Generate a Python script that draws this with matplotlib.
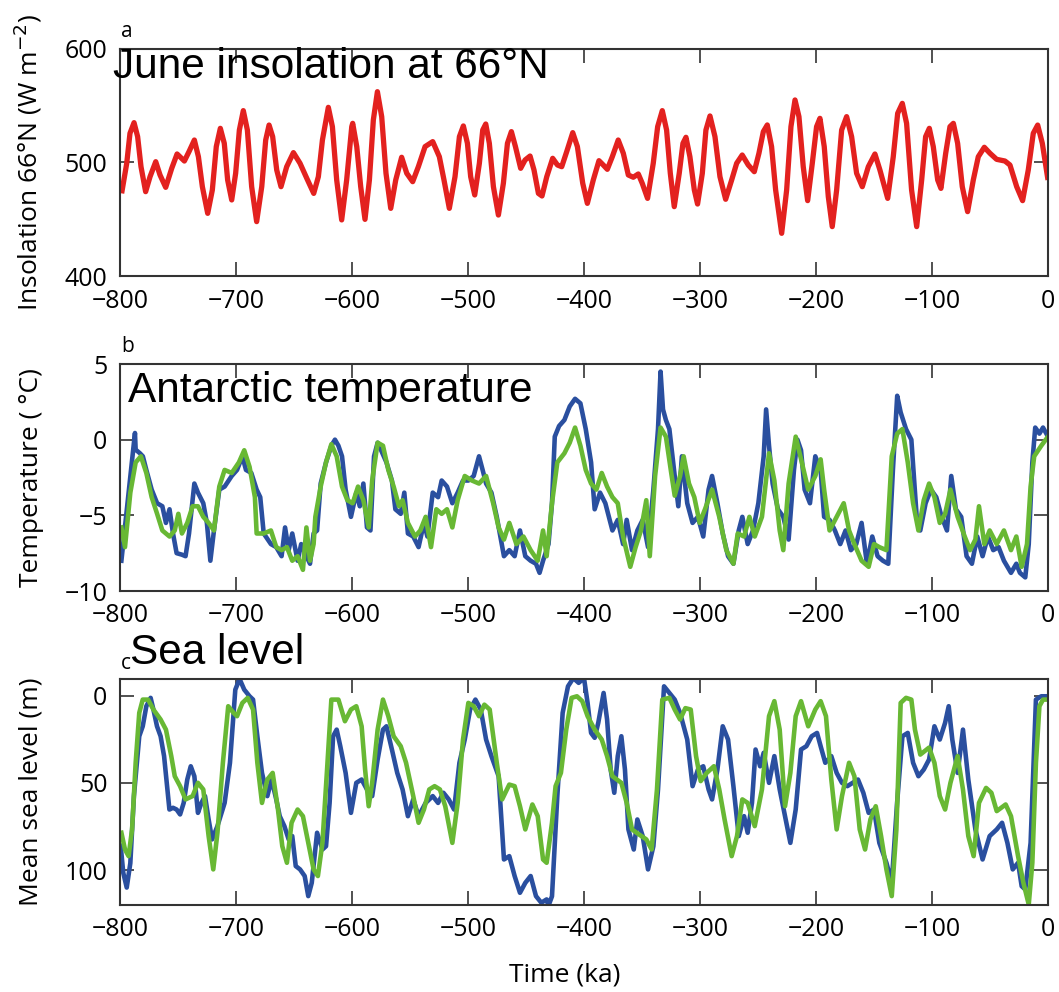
import matplotlib
matplotlib.use("Agg")
import matplotlib.pyplot as plt

# ---------------- data ----------------
insolation = [(-798.6,472.8),(-794.2,499.3),(-791.4,525.7),(-787.9,535.1),(-784.8,522.8),(-781.9,496.3),
    (-777.9,474.3),(-774.1,487.5),(-769.2,500.7),(-765.5,489),(-760.6,478.1),(-755.4,494.9),(-750.8,507.5),
    (-744.5,501.3),(-740.5,509.6),(-735.9,519.8),(-732.4,505.1),(-729,478.7),(-724.4,455.2),(-720.4,475.8),
    (-717,514),(-713.5,530.1),(-710.1,516.9),(-707.2,484.6),(-703.7,467),(-700.3,490.5),(-697.1,528.6),
    (-693.7,545.7),(-690.2,528.6),(-686.5,478.7),(-682.2,447.9),(-677.8,478.7),(-674.4,519.8),(-671.5,533),
    (-668.4,522.8),(-664.9,493.4),(-661.2,478.7),(-656.3,496.3),(-650.5,508.7),(-644.8,499.3),(-639,486.1),
    (-633,472.8),(-629,487.5),(-625.5,519.8),(-620.4,548.6),(-616.9,531.6),(-613.2,484.6),(-608.9,449.4),
    (-604.6,484.6),(-600.2,531.6),(-599.4,534.5),(-595.9,514),(-592.5,478.7),(-588.8,449.9),(-585,484.6),
    (-581.6,537.5),(-578.1,562.4),(-574.4,540.4),(-570.7,490.5),(-566.6,459.6),(-562.3,484.6),(-557.2,504.6),
    (-552.8,490.5),(-547.7,483.1),(-542.8,496.3),(-537,514),(-530.4,518.4),(-524.7,505.1),(-520.7,484.6),
    (-516.1,459.6),(-511.2,487.5),(-507.4,522.8),(-504,532.2),(-500.5,516.9),(-497.7,487.5),(-494.2,471.4),
    (-490.2,499.3),(-487.3,528.6),(-484.7,533.9),(-481.6,516.9),(-478.1,478.7),(-473.8,453.7),(-469.5,481.7),
    (-466,516.9),(-462.6,527.2),(-459.1,514),(-454.6,494.9),(-450.8,502.2),(-446.5,505.7),(-443.1,493.4),
    (-439.3,472.8),(-436.2,470.5),(-432.1,487.5),(-427,503.7),(-422.9,497.8),(-419.2,496.3),(-414.9,509.6),
    (-409.7,526.3),(-405.7,514),(-401.1,481.7),(-397.1,464),(-392,484.6),(-387.1,501.6),(-383.4,497.8),
    (-379.9,494),(-375.6,505.1),(-370.5,519.8),(-366.1,508.1),(-361.8,489),(-357.5,487),(-353.2,489.9),
    (-349.8,481.7),(-345.2,468.4),(-340.3,499.3),(-336.5,531.6),(-332.5,545.7),(-328.8,528.6),(-325.6,490.5),
    (-322.2,461.1),(-317.9,490.5),(-314.7,516.9),(-312.1,522.2),(-308.7,505.1),(-304.9,475.8),(-302.1,463.4),
    (-298,490.5),(-294.9,528.6),(-291.4,541),(-287.1,522.8),(-282.8,487.5),(-277.9,467.6),(-272.7,484.6),
    (-268.4,499.3),(-263.6,506.6),(-258.4,497.8),(-253.2,491.9),(-249.2,508.1),(-245.4,527.2),(-242,533.1),
    (-238.3,514),(-234.8,475.8),(-229.6,437.6),(-225.3,475.8),(-221.6,531.6),(-218.1,555.1),(-214.7,540.4),
    (-211,496.3),(-207.2,466.4),(-203.2,499.3),(-199.5,531.6),(-196.6,538.9),(-192.9,514),(-189.4,469.9),
    (-186,443.5),(-182.2,475.8),(-177.9,528.6),(-173.6,540.4),(-169.3,522.8),(-165,490.5),(-160.1,478.7),
    (-154.9,496.3),(-149.2,507.5),(-144.9,493.4),(-138.2,468.4),(-133.4,505.1),(-129.6,543.3),(-125.6,552.1),
    (-121.9,534.5),(-117.6,475.8),(-113.2,443.5),(-108.9,484.6),(-105.5,522.8),(-102.3,530.1),(-98.9,514),
    (-95.1,484.6),(-92.3,477.2),(-88.2,508.1),(-84.5,531.6),(-81.6,534.5),(-77.9,516.9),(-73.9,478.7),
    (-69.3,456.7),(-64.4,484.6),(-60.1,505.1),(-54.9,513.4),(-50,508.1),(-44.3,502.8),(-37.1,501.3),
    (-32.8,497.8),(-27,478.7),(-21.9,466.4),(-17,493.4),(-12.7,525.7),(-8.9,533),(-4.9,516.9),(0,484.6)]

temp_blue = [(-798.8,-8.0),(-787.1,0.44),(-786.5,-0.66),(-782.8,-0.9),(-780.3,-1.1),(-777.3,-2),(-772.7,-3.3),
    (-768,-4.2),(-763.5,-4.4),(-760.4,-5.5),(-757.3,-4.6),(-754.3,-6.2),(-751.2,-7.5),(-746.6,-7.6),(-743.5,-7.7),
    (-740.5,-6.2),(-735.9,-2.9),(-732.8,-3.5),(-728.2,-4.2),(-725.1,-5.5),(-722.1,-8.0),(-719,-6),(-714.4,-3.3),
    (-709.8,-3.1),(-703.7,-2.4),(-699.1,-2),(-694.5,-1.1),(-691.4,-2),(-686.8,-2.2),(-682.2,-3.3),(-679.1,-3.8),
    (-676.1,-6.2),(-669.9,-6.9),(-665.3,-7.1),(-660.7,-7.7),(-657.7,-5.8),(-654.6,-7.3),(-651.5,-6.2),(-646.9,-8.0),
    (-643.8,-6.9),(-639.3,-7.7),(-636.2,-8.2),(-633.1,-6.2),(-630.1,-6),(-627,-2.9),(-622.4,-1.5),(-617.8,-0.4),
    (-614.7,0),(-611.7,-0.4),(-608.6,-1.1),(-605.5,-3.3),(-600.9,-5.1),(-596.3,-3.5),(-593.3,-4.4),(-590.2,-2.9),
    (-587.1,-5.8),(-584.1,-6),(-581,-1.1),(-577.9,-0.2),(-574.9,-0.7),(-570.3,-1.5),(-565.6,-2.7),(-562.6,-4.6),
    (-558,-4.9),(-554.9,-3.5),(-551.8,-6.2),(-547.2,-6.4),(-542.6,-7.1),(-538,-5.5),(-535,-6.4),(-530.4,-3.5),
    (-525.8,-3.8),(-522.7,-2.7),(-518.1,-3.1),(-513.5,-4.2),(-508.9,-3.5),(-504.3,-2.7),(-499.7,-2.7),(-495.1,-2.4),
    (-490.5,-1.1),(-487.4,-2),(-484.4,-2.9),(-479.8,-3.5),(-475.2,-5.1),(-472.1,-6.4),(-469,-7.7),(-464.4,-7.3),
    (-459.8,-7.7),(-455.2,-6),(-450.6,-7.7),(-446,-8.0),(-441.4,-8.2),(-438.3,-8.8),(-435.3,-8.0),(-430.6,-6.9),
    (-427.6,-4.2),(-425.2,0.2),(-421.5,0.9),(-416.9,1.3),(-412.3,2.2),(-407.7,2.7),(-403.1,2.4),(-398.5,0.7),
    (-393.9,-1.5),(-390.8,-4.6),(-386.2,-3.5),(-381.6,-4.2),(-375.5,-6),(-370.9,-5.3),(-366.3,-6.9),(-363.2,-5.3),
    (-358.6,-7.3),(-354,-6),(-349.4,-5.3),(-344.8,-7.1),(-340.2,-3.3),(-336.2,0.7),(-334,4.5),(-331.9,2),(-329.4,1.3),
    (-326.4,0.7),(-321.8,-2.4),(-318.7,-4.4),(-315.6,-1.1),(-311,-4.2),(-306.4,-5.5),(-301.8,-5.1),(-297.2,-6.4),
    (-292.6,-3.3),(-289.6,-2.4),(-285,-4.2),(-280.4,-6.2),(-275.8,-7.7),(-271.2,-8.2),(-266.6,-6),(-263.5,-5.1),
    (-258.9,-6.9),(-254.3,-6),(-249.7,-4.2),(-245.1,-1.1),(-243,2),(-240.5,-0.4),(-237.4,-2.9),(-232.8,-4.6),
    (-228.2,-5.1),(-223.6,-6.6),(-219,-2),(-216,0),(-212.9,-0.7),(-209.8,-3.3),(-205.2,-4.2),(-200.6,-1.1),
    (-196,-2),(-193,-5.1),(-188.3,-5.3),(-183.7,-6),(-179.1,-6.9),(-174.5,-6),(-169.9,-7.3),(-165.3,-6.9),
    (-160.7,-5.5),(-156.1,-8.2),(-151.5,-6.4),(-146.9,-7.7),(-142.3,-8),(-137.7,-8.2),(-133.7,-2),(-130,2.9),
    (-127,1.8),(-122.4,0.7),(-117.8,0),(-113.2,-5.1),(-110.1,-6),(-105.5,-4.2),(-100.9,-3.3),(-96.3,-3.8),
    (-91.7,-5.1),(-87.1,-6),(-83.4,-2.4),(-79.4,-4.6),(-74.8,-5.1),(-70.2,-7.7),(-65.6,-8.2),(-61,-6.4),
    (-56.4,-7.7),(-51.8,-6.4),(-47.2,-7.3),(-42.6,-7.1),(-38,-8),(-31.9,-8.8),(-27.3,-8.2),(-24.2,-8.8),
    (-19.6,-9.1),(-16.6,-6.9),(-13.5,-1.5),(-11,0.8),(-7.4,0.4),(-4.3,0.8),(0,0.2)]

temp_green = [(-798.8,-5.8),(-795.7,-7.1),(-791.1,-3.5),(-786.5,-1.5),(-782,-1.1),(-777.3,-2.2),(-772.7,-3.8),
    (-768,-4.9),(-763.5,-6),(-757.3,-6.4),(-752.8,-6),(-749.7,-4.9),(-746.6,-6.2),(-742,-5.5),(-737.4,-4.4),
    (-732.8,-4.4),(-728.2,-5.1),(-723.6,-5.5),(-719,-6),(-714.4,-3.1),(-709.8,-2),(-703.7,-2.2),(-697.5,-1.5),
    (-692.9,-0.7),(-688.3,-1.8),(-683.7,-3.8),(-682.2,-6.2),(-676.1,-6.2),(-669.9,-6),(-665.3,-7.1),(-660.7,-7.3),
    (-656.1,-7.1),(-651.5,-8),(-646.9,-7.7),(-642.3,-8.6),(-639.3,-5.8),(-636.2,-8),(-633.1,-6.9),(-631.6,-5.1),
    (-627,-3.1),(-622.4,-1.5),(-617.8,-0.3),(-613.2,-1.1),(-608.6,-3.1),(-604,-4),(-599.4,-4.2),(-594.8,-3.1),
    (-590.2,-4),(-585.6,-5.8),(-582.6,-2.7),(-577.9,-0.2),(-573.3,-0.4),(-568.7,-2),(-564.1,-3.1),(-559.5,-4.4),
    (-556.4,-4),(-551.8,-5.5),(-545.7,-6.4),(-541.1,-6),(-536.5,-5.1),(-531.9,-7.1),(-527.3,-4.6),(-522.7,-4.9),
    (-518.1,-4.6),(-513.5,-5.8),(-508.9,-4),(-502.8,-2.4),(-496.6,-2.7),(-490.5,-2.9),(-484.4,-2.4),(-478.3,-4.2),
    (-473.6,-5.8),(-469,-6.6),(-464.4,-5.5),(-458.3,-6.9),(-452.2,-6.4),(-446,-7.3),(-439.9,-8),(-435.3,-6),
    (-432.2,-7.7),(-427.6,-4.2),(-423,-1.5),(-416.9,-0.9),(-412.3,-0.2),(-407.7,0.8),(-403.1,-0.4),(-398.5,-2),
    (-393.9,-2.9),(-389.3,-3.3),(-384.7,-2.2),(-380.1,-3.1),(-375.5,-3.8),(-370.9,-4.2),(-366.3,-6.4),(-360.1,-8.4),
    (-355.5,-7.1),(-350.9,-6),(-346.3,-4),(-343.3,-7.7),(-338.7,-2.4),(-334,0.8),(-329.4,0.2),(-324.8,-2.2),
    (-321.8,-3.7),(-317.2,-2.4),(-314.1,-1.1),(-309.5,-2.9),(-304.9,-3.8),(-300.3,-5.5),(-295.7,-4.6),(-289.6,-3.3),
    (-283.4,-5.1),(-277.3,-7.3),(-271.2,-8.2),(-267.5,-6.2),(-262,-6.4),(-257.4,-5.1),(-252.8,-6.4),(-246.6,-5.1),
    (-240.5,-0.9),(-235.9,-2.7),(-231.3,-6),(-228.2,-7.3),(-223.6,-2.9),(-217.5,0.2),(-212.9,-1.3),(-206.7,-3.3),
    (-200.6,-2.4),(-196,-1.3),(-193,-3.3),(-188.3,-6),(-182.2,-5.1),(-176.1,-4.2),(-171.5,-6),(-166.9,-6.9),
    (-160.7,-8),(-154.6,-8.4),(-150,-6.9),(-145.4,-7.1),(-139.3,-7.3),(-134.7,-1.1),(-130,0.4),(-125.5,0.7),
    (-120.9,-1.5),(-116.3,-4.2),(-111.7,-6),(-107.1,-4),(-102.5,-2.9),(-97.9,-3.8),(-93.3,-5.5),(-88.7,-4.9),
    (-84.1,-3.3),(-77.9,-5.1),(-71.8,-6.4),(-67.2,-7.3),(-62.6,-6.6),(-59.5,-4.4),(-54.9,-6.9),(-50.3,-6),
    (-44.2,-6.9),(-38,-6),(-31.9,-7.3),(-27.3,-6.4),(-22.7,-8.4),(-18.1,-6.9),(-15,-3.1),(-11.9,-1.1),
    (-5.8,-0.4),(0,0.2)]

sea_blue = [(-799.4,86),(-797.2,101.5),(-794.2,110),(-791.1,96),(-788,57.6),(-783.4,23.3),(-780.4,17.6),
    (-777.3,6.1),(-773.6,1.3),(-771.2,8),(-768.1,17.6),(-765,23.3),(-762,34.7),(-757.4,65.3),(-754.3,64.3),
    (-751.2,65.3),(-748.2,68.1),(-745.1,61.5),(-742,48.1),(-739,40.5),(-735.9,46.2),(-732.8,67.2),(-729.8,61.5),
    (-726.7,57.6),(-723.6,71),(-720.6,82.4),(-716,74.8),(-709.8,61.5),(-705.2,38.5),(-700.6,-3.4),(-696.9,-9.5),
    (-692.9,-3.4),(-688.3,0.4),(-685.3,2.3),(-681.6,23.3),(-677.6,44.3),(-673,57.6),(-669.3,48.1),(-665.3,59.5),
    (-662.3,69.1),(-658.3,74.8),(-654.6,82.4),(-651.5,80.5),(-648.5,97.7),(-644.8,99.6),(-640.8,103.4),
    (-637.7,114.9),(-634.7,107.3),(-630.1,78.6),(-625.5,88.2),(-622.4,86.3),(-619.3,61.5),(-616.3,23.3),
    (-613.2,19.5),(-610.1,29),(-605.5,44.3),(-600.9,67.2),(-596.3,50),(-591.7,48.1),(-587.1,53.8),(-582.6,57.6),
    (-577.9,36.6),(-573.3,19.5),(-570.3,17.6),(-565.6,30.9),(-561,44.3),(-556.4,53.8),(-551.8,69.1),(-547.2,59.5),
    (-542.6,69.1),(-536.5,61.5),(-530.4,57.6),(-525.8,61.5),(-521.2,55.7),(-516.6,59.5),(-512,65.3),(-507.4,38.5),
    (-502.8,25.2),(-498.2,8),(-493.6,2.3),(-489,8),(-484.4,25.2),(-479.8,34.7),(-473.6,46.2),(-469,93.9),
    (-464.4,92),(-459.8,103.4),(-455.2,113),(-450.6,107.3),(-446,103.4),(-441.4,114.9),(-436.8,118.7),
    (-432.2,116.8),(-430.7,120.6),(-427.6,115),(-423,57.6),(-418.4,9.9),(-413.8,-5.3),(-409.2,-10),(-404.6,-7.3),
    (-400,-10),(-396.9,4.2),(-393.9,21.4),(-390.8,24.2),(-387.7,15.6),(-383.1,-1.5),(-380.1,13.7),(-377,42.4),
    (-373.9,55.7),(-370.9,34.7),(-367.8,23.3),(-364.7,42.4),(-361.7,76.7),(-357.1,88.2),(-354,71),(-349.4,80.5),
    (-344.8,99.6),(-340.2,86.3),(-336.2,53.8),(-331,-5.3),(-326.4,-1.5),(-321.8,2.3),(-317.2,9.9),(-314.1,17.6),
    (-311,25.2),(-306.4,51.9),(-301.8,42.4),(-297.2,40.5),(-292.6,53.8),(-289.6,59.5),(-285,42.4),(-280.4,17.6),
    (-275.8,25.2),(-271.2,51.9),(-266.6,80.5),(-262,69.1),(-258.9,78.6),(-255.2,61.5),(-252.1,30.9),(-248.2,40.5),
    (-245.1,32.8),(-240.5,50),(-235.9,34.7),(-231.3,53.8),(-226.7,69.1),(-222.1,84.4),(-217.5,65.3),(-212.9,30.9),
    (-208.3,29),(-203.7,23.3),(-199.1,21.4),(-196,29),(-192,38.5),(-186.8,34.7),(-182.2,44.3),(-177.6,50),
    (-173,51.9),(-168.4,50),(-163.8,48.1),(-159.2,55.7),(-154.6,67.2),(-150,65.3),(-145.4,84.4),(-139.3,95.8),
    (-134.7,107.3),(-130.1,61.5),(-125.5,23.3),(-120.9,21.4),(-116.3,38.5),(-111.7,46.2),(-107.1,42.4),
    (-102.5,36.6),(-97.9,17.6),(-93.3,25.2),(-88.7,15.6),(-85.6,6.1),(-82.5,25.2),(-77.9,44.3),(-73.3,19.5),
    (-68.7,48.1),(-62.6,76.7),(-56.4,93.9),(-50.3,80.5),(-44.2,76.7),(-39.6,72.9),(-35,84.4),(-30.4,99.6),
    (-25.8,95.8),(-22.7,109.2),(-19.6,111.1),(-15,84.4),(-10.4,2.3),(-5.8,0.4),(0,0.4)]

sea_green = [(-798.8,78.6),(-795.7,88.2),(-792.6,92),(-789.6,76.7),(-786.5,38.5),(-783.4,9.9),(-780.4,2.3),
    (-775.8,2.3),(-771.2,8),(-765,13.7),(-760.4,19.5),(-755.8,34.7),(-752.8,46.2),(-748.2,51.9),(-743.5,59.5),
    (-737.4,57.6),(-732.8,50),(-728.2,53.8),(-723.6,80.5),(-719.6,99.6),(-716,78.6),(-711.3,38.5),(-706.7,6.1),
    (-702.1,9.9),(-699.1,11.8),(-694.5,4.2),(-689.9,1.3),(-685.3,8),(-681.6,38.5),(-677.6,61.5),(-673,48.1),
    (-668.4,44.3),(-663.8,65.3),(-660.1,86.3),(-656.1,95.8),(-652.1,72.9),(-646.9,65.3),(-642.3,69.1),
    (-637.7,84.4),(-633.1,99.6),(-629.4,103.4),(-625.5,84.4),(-621.5,42.4),(-617.8,2.3),(-611.7,2.3),
    (-606.1,14.7),(-600.9,8),(-596.3,6.1),(-591.7,17.6),(-588.7,42.4),(-585.6,63.4),(-582.6,50),(-577.9,19.5),
    (-573.3,2.3),(-568.7,11.8),(-564.1,23.3),(-558,29),(-553.4,38.5),(-547.2,57.6),(-542.6,72.9),(-538,65.3),
    (-533.4,53.8),(-528.8,51.9),(-524.2,53.8),(-519.6,63.4),(-513.5,84.4),(-508.9,61.5),(-504.3,25.2),
    (-499.7,4.2),(-495.1,6.1),(-490.5,11.8),(-485.9,5.2),(-481.3,8),(-475.2,38.5),(-470.6,59.5),(-464.4,51),
    (-459.8,51.9),(-455.2,63.4),(-450.6,76.7),(-444.5,62.4),(-439.9,69.1),(-435.3,93.9),(-432.2,95.8),
    (-427.6,72.9),(-424.5,51.9),(-419.9,44.3),(-415.3,19.5),(-410.7,1.3),(-406.1,0.4),(-401.5,3.2),(-396.9,11.8),
    (-390.8,19.5),(-384.7,25.2),(-380.1,34.7),(-375.5,46.2),(-367.8,50),(-363.2,61.5),(-358.6,76.7),(-352.5,79.6),
    (-346.3,82.4),(-341.7,88.2),(-337.1,53.8),(-332.5,2.3),(-326.4,1.3),(-321.8,8),(-317.2,13.7),(-312.6,7.2),
    (-308,8),(-303.4,34.7),(-299.4,49),(-294.2,44.3),(-288,40.5),(-283.4,53.8),(-278.8,71),(-272.7,92),
    (-268.1,80.5),(-263.5,59.5),(-258.9,61.5),(-252.8,74.8),(-246.6,53.8),(-240.5,11.8),(-235.9,3.2),
    (-231.3,19.5),(-226.7,63.4),(-222.1,44.3),(-217.5,11.8),(-212.9,3.2),(-206.7,17.6),(-200.6,8),(-196,3.2),
    (-191.4,11.8),(-186.8,48.1),(-182.2,76.7),(-177.6,57.6),(-171.5,38.5),(-166.9,46.2),(-162.3,76.7),
    (-157.7,88.2),(-153.1,71),(-148.5,63.4),(-143.9,80.5),(-139.3,99.6),(-134.7,114.9),(-130.7,76.7),(-127,4.2),
    (-122.4,1.3),(-117.8,2.3),(-114.7,19.5),(-110.1,33.8),(-102.5,29.8),(-97.9,38.5),(-93.3,57.6),(-88.7,65.3),
    (-84.1,50),(-77.9,34.7),(-73.3,53.8),(-68.7,80.5),(-64.1,92),(-59.5,61.5),(-53.4,52.9),(-48.8,55.7),
    (-44.2,66.2),(-36.5,62.4),(-31.9,69.1),(-25.8,92),(-21.2,107.3),(-16.6,119.7),(-13.5,95.8),(-10.4,38.5),
    (-7.4,6.1),(-4.3,2.3),(0,2.3)]

x_ticks = [-800, -700, -600, -500, -400, -300, -200, -100, 0]
a_yticks = [400, 500, 600]
b_yticks = [-10, -5, 0, 5]
c_yticks = [0, 50, 100]

RED = "#e3211f"
BLUE = "#2a4f9f"
GREEN = "#68b834"

# ---------------- figure ----------------
plt.rcParams['font.family'] = ['Open Sans', 'DejaVu Sans']
plt.rcParams['axes.unicode_minus'] = True
W, H = 1059, 992
fig = plt.figure(figsize=(W / 100, H / 100), dpi=100)

L = 120 / W
AW = 1048 - 120
Wd = AW / W

def box(top, bottom):
    return [L, 1 - bottom / H, Wd, (bottom - top) / H]

axA = fig.add_axes(box(49, 276))
axB = fig.add_axes(box(364, 591))
axC = fig.add_axes(box(679, 905))

for ax in (axA, axB, axC):
    ax.set_xlim(-800, 0)
    ax.set_xticks(x_ticks)
    ax.tick_params(direction='in', top=True, right=True, length=10, width=1.2,
                   labelsize=18, color='#333333')
    ax.tick_params(axis='x', pad=9)
    ax.tick_params(axis='y', pad=9)
    for s in ax.spines.values():
        s.set_linewidth(1.5)
        s.set_color('#333333')

LBL_X = -76 / AW

# panel a
ia_t, ia_v = zip(*insolation)
axA.plot(ia_t, ia_v, color=RED, lw=3.8, solid_joinstyle='round', solid_capstyle='butt')
axA.set_ylim(400, 600)
axA.set_yticks(a_yticks)
axA.set_ylabel('Insolation 66°N (W m$^{-2}$)', fontsize=19)
axA.yaxis.set_label_coords(LBL_X, 0.5)

# panel b
tb_t, tb_v = zip(*temp_blue)
tg_t, tg_v = zip(*temp_green)
axB.plot(tb_t, tb_v, color=BLUE, lw=3.3, solid_joinstyle='round')
axB.plot(tg_t, tg_v, color=GREEN, lw=3.3, solid_joinstyle='round')
axB.set_ylim(-10, 5)
axB.set_yticks(b_yticks)
axB.set_ylabel('Temperature ( °C)', fontsize=19)
axB.yaxis.set_label_coords(LBL_X, 0.5)

# panel c
sb_t, sb_v = zip(*sea_blue)
sg_t, sg_v = zip(*sea_green)
axC.plot(sb_t, sb_v, color=BLUE, lw=3.3, solid_joinstyle='round')
axC.plot(sg_t, sg_v, color=GREEN, lw=3.3, solid_joinstyle='round')
axC.set_ylim(120, -9.5)
axC.set_yticks(c_yticks)
axC.set_ylabel('Mean sea level (m)', fontsize=19)
axC.yaxis.set_label_coords(LBL_X, 0.5)
axC.set_xlabel('Time (ka)', fontsize=19)
axC.xaxis.set_label_coords((565 - 120) / AW, -(962 - 905) / 226)

# titles & panel letters
fig.text(113 / W, 1 - 78 / H, 'June insolation at 66°N', fontsize=30.5,
         family='Liberation Sans', va='baseline', ha='left')
fig.text(128 / W, 1 - 402 / H, 'Antarctic temperature', fontsize=30.5,
         family='Liberation Sans', va='baseline', ha='left')
fig.text(130 / W, 1 - 664 / H, 'Sea level', fontsize=30.5,
         family='Liberation Sans', va='baseline', ha='left')
fig.text(121 / W, 1 - 37 / H, 'a', fontsize=15, va='baseline', ha='left')
fig.text(121 / W, 1 - 352 / H, 'b', fontsize=15, va='baseline', ha='left')
fig.text(121 / W, 1 - 669 / H, 'c', fontsize=15, va='baseline', ha='left')

fig.savefig('out.png', dpi=100)
